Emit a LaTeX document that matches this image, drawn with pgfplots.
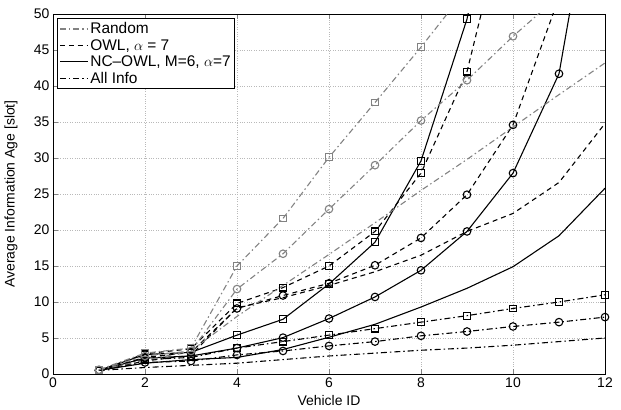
\documentclass[border=0pt]{standalone}
\usepackage{fontspec}
\setmainfont{Liberation Sans}
\usepackage{pgfplots}
\pgfplotsset{compat=1.18}
\definecolor{rgray}{RGB}{130,130,130}

\begin{document}
\begin{tikzpicture}[
  rnd/.style={rgray, line width=1.1pt, dash pattern=on 6pt off 3pt on 1.5pt off 3pt},
  owl/.style={black, line width=1.1pt, dash pattern=on 5pt off 4pt},
  nc/.style={black, line width=1.1pt, solid},
  ai/.style={black, line width=1.1pt, dash pattern=on 6pt off 3pt on 1.5pt off 3pt},
  sq/.style={mark=square, mark size=3.4pt, mark options={solid, line width=1.1pt}},
  ci/.style={mark=o, mark size=3.8pt, mark options={solid, line width=1.1pt}},
]
\begin{axis}[
  scale only axis,
  width=552bp, height=360bp,
  xmin=0, xmax=12, ymin=0, ymax=50,
  xtick={0,2,...,12}, ytick={0,5,...,50},
  tick align=inside,
  xtick pos=both, ytick pos=both,
  major tick length=5bp,
  grid=major,
  major grid style={dotted, gray!55, line width=0.6pt},
  axis line style={line width=0.8pt},
  xlabel={Vehicle ID}, ylabel={Average Information Age [slot]},
  label style={font=\fontsize{14}{16}\selectfont},
  tick label style={font=\fontsize{14}{16}\selectfont},
  /pgf/number format/assume math mode=true,
  xlabel style={at={(axis description cs:0.5,-0.075)}, anchor=center},
  ylabel style={at={(axis description cs:-0.076,0.5)}, anchor=center},
  legend style={at={(0.007,0.988)}, anchor=north west, draw=black, line width=0.8pt,
    fill=white, font=\fontsize{15.5}{17}\selectfont, row sep=0bp, inner sep=2bp},
  legend cell align=left,
  legend image code/.code={\draw[#1] (0bp,0bp) -- (28bp,0bp);},
]
\coordinate (sw) at (rel axis cs:0,0);
\coordinate (ne) at (rel axis cs:1,1);
% legend entries
\addlegendimage{rnd}
\addlegendentry{Random}
\addlegendimage{owl}
\addlegendentry{OWL, $\alpha$ = 7}
\addlegendimage{nc}
\addlegendentry{NC\textendash OWL, M=6, $\alpha$=7}
\addlegendimage{ai}
\addlegendentry{All Info}

% All Info
\addplot[ai, forget plot] coordinates {(1,0.5) (2,0.9) (3,1.2) (4,1.5) (5,2.0) (6,2.5) (7,2.9) (8,3.3) (9,3.6) (10,4.0) (11,4.5) (12,5.0)};
\addplot[ai, ci, forget plot] coordinates {(1,0.5) (2,1.6) (3,1.8) (4,2.65) (5,3.2) (6,3.9) (7,4.5) (8,5.3) (9,5.9) (10,6.6) (11,7.2) (12,7.9)};
\addplot[ai, sq, forget plot] coordinates {(1,0.5) (2,2.0) (3,2.3) (4,3.6) (5,4.5) (6,5.4) (7,6.3) (8,7.2) (9,8.1) (10,9.1) (11,10.0) (12,11.0)};

% NC-OWL
\addplot[nc, forget plot] coordinates {(1,0.5) (2,1.5) (3,2.0) (4,2.3) (5,3.4) (6,5.1) (7,6.9) (8,9.3) (9,11.9) (10,14.9) (11,19.2) (12,25.8)};
\addplot[nc, ci, forget plot] coordinates {(1,0.5) (2,2.2) (3,2.5) (4,3.6) (5,5.05) (6,7.7) (7,10.7) (8,14.4) (9,19.8) (10,27.9) (11,41.7) (12,78)};
\addplot[nc, sq, forget plot] coordinates {(1,0.5) (2,2.7) (3,3.0) (4,5.4) (5,7.6) (6,12.5) (7,18.3) (8,29.6) (9,49.3) (10,80)};

% OWL
\addplot[owl, forget plot] coordinates {(1,0.5) (2,1.8) (3,2.6) (4,9.2) (5,10.6) (6,12.3) (7,14.2) (8,16.5) (9,19.8) (10,22.3) (11,26.6) (12,34.8)};
\addplot[owl, ci, forget plot] coordinates {(1,0.5) (2,2.3) (3,3.0) (4,9.1) (5,10.9) (6,12.6) (7,15.1) (8,18.9) (9,24.9) (10,34.6) (11,52.3)};
\addplot[owl, sq, forget plot] coordinates {(1,0.5) (2,2.8) (3,3.5) (4,9.8) (5,12.0) (6,15.0) (7,19.8) (8,27.9) (9,42.0) (10,68)};

% Random
\addplot[rnd, forget plot] coordinates {(1,0.6) (2,1.9) (3,3.2) (4,8.0) (5,12.3) (6,16.6) (7,21.0) (8,25.5) (9,29.8) (10,34.3) (11,38.8) (12,43.2)};
\addplot[rnd, ci, forget plot] coordinates {(1,0.6) (2,2.5) (3,3.2) (4,11.8) (5,16.7) (6,22.9) (7,29.0) (8,35.2) (9,40.8) (10,46.9) (11,52.5)};
\addplot[rnd, sq, forget plot] coordinates {(1,0.6) (2,2.9) (3,3.6) (4,15.0) (5,21.6) (6,30.1) (7,37.7) (8,45.4) (9,53.5)};
\end{axis}
\pgfresetboundingbox
\path ([shift={(-53bp,-36bp)}]sw) rectangle ([shift={(16bp,14bp)}]ne);
\end{tikzpicture}
\end{document}
